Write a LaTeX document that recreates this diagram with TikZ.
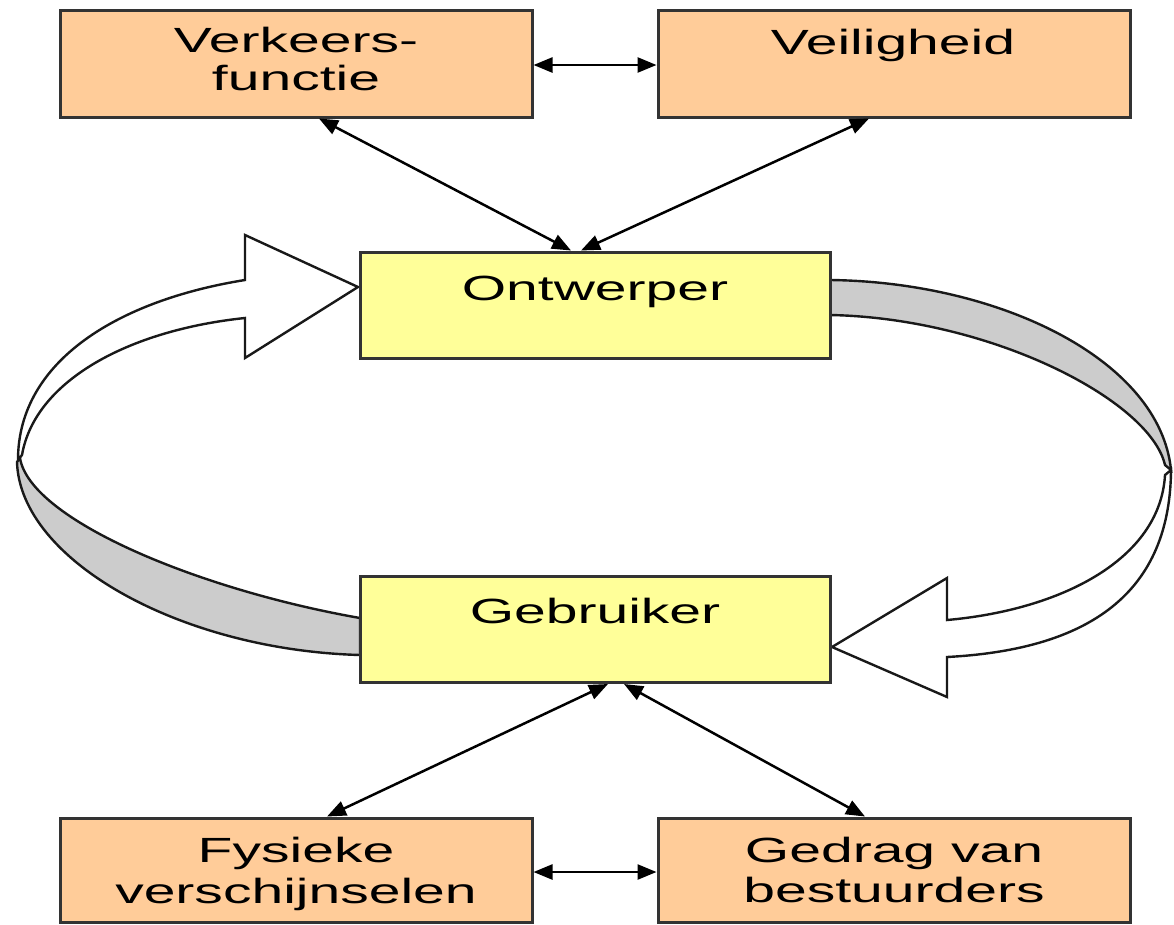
\documentclass[tikz,border=0pt]{standalone}
\usepackage{fontspec}
\setmainfont{Liberation Sans}
\usetikzlibrary{arrows.meta,calc}
\definecolor{peach}{HTML}{FFCC99}
\definecolor{pale}{HTML}{FFFF99}
\definecolor{band}{HTML}{CCCCCC}
\begin{document}
\begin{tikzpicture}[x=1pt,y=-1pt,
  peachbox/.style={draw=black!80, line width=3pt, fill=peach, minimum width=472pt, minimum height=107pt, inner sep=0pt},
  palebox/.style={draw=black!80, line width=3pt, fill=pale, minimum width=470pt, minimum height=106pt, inner sep=0pt},
  lbl/.style={font=\fontsize{35}{39}\selectfont, align=center, xscale=1.63, transform shape, inner sep=0pt, anchor=base},
  link/.style={line width=2.5pt, {Triangle[length=19pt,width=15pt]}-{Triangle[length=19pt,width=15pt]}},
  ribbon/.style={draw=black!90, line width=2.4pt, line join=miter}]
\useasboundingbox (0,0) rectangle (1174,924);
% ribbons
\draw[ribbon, fill=band] (360,618) .. controls (200,590) and (30,520) .. (20,458) -- (17,462) .. controls (20,560) and (180,650) .. (360,655) -- cycle;
\draw[ribbon, fill=white] (18,460) .. controls (18,360) and (120,300) .. (245,280) -- (245,235) -- (358,287) -- (245,358) -- (245,318) .. controls (130,330) and (35,380) .. (22,455) -- cycle;
\draw[ribbon, fill=band] (830,280) .. controls (1000,282) and (1160,360) .. (1171,470) -- (1165,465) .. controls (1150,400) and (990,318) .. (830,315) -- cycle;
\draw[ribbon, fill=white] (1171,470) .. controls (1170,600) and (1080,650) .. (947,657) -- (947,697) -- (832,647) -- (947,578) -- (947,620) .. controls (1060,610) and (1160,560) .. (1165,475) -- cycle;
% boxes
\node[peachbox] (vf) at (296,63.5) {};
\node[peachbox] (vei) at (894,63.5) {};
\node[palebox] (ontw) at (595,305) {};
\node[palebox] (geb) at (595,629.5) {};
\node[peachbox, minimum height=104pt] (fys) at (296,870) {};
\node[peachbox, minimum height=104pt] (ged) at (894,870) {};
% labels (base anchor = baseline of last line)
\node[lbl, font=\fontsize{35}{38}\selectfont] (vf-t) at (296,90) {Verkeers-\\functie};
\node[lbl] (vei-t) at (893,54) {Veiligheid};
\node[lbl] (ontw-t) at (595,300) {Ontwerper};
\node[lbl] (geb-t) at (595,623) {Gebruiker};
\node[lbl, font=\fontsize{35}{41}\selectfont] (fys-t) at (296,903) {Fysieke\\verschijnselen};
\node[lbl, font=\fontsize{35}{40}\selectfont] (ged-t) at (894,902) {Gedrag van\\bestuurders};
% connectors
\draw[link] (vf.east |- 0,65) -- (vei.west |- 0,65);
\draw[link] (fys.east |- 0,872) -- (ged.west |- 0,872);
\draw[link] ($(vf.south)+(23,0)$) -- ($(ontw.north)+(-24,0)$);
\draw[link] ($(vei.south)+(-25,0)$) -- ($(ontw.north)+(-14,0)$);
\draw[link] ($(geb.south)+(13,0)$) -- ($(fys.north)+(31,0)$);
\draw[link] ($(geb.south)+(29,0)$) -- ($(ged.north)+(-29,0)$);
\end{tikzpicture}
\end{document}
